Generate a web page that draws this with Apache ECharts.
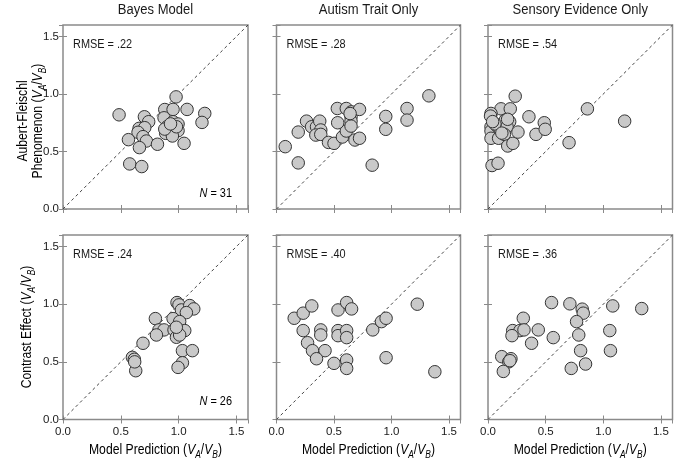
<!DOCTYPE html>
<html>
<head>
<meta charset="utf-8">
<script src="https://cdn.jsdelivr.net/npm/echarts@6/dist/echarts.min.js"></script>
<style>html,body{margin:0;padding:0;background:#fff}#c{width:675px;height:461px}</style>
</head>
<body>
<div id="c"></div>
<script>
// ---- data ----
const panelTitles = ['Bayes Model', 'Autism Trait Only', 'Sensory Evidence Only'];
const rmseTop = ['.22', '.28', '.54'];
const rmseBottom = ['.24', '.40', '.36'];
const nTop = 31;
const nBottom = 26;
const axisMin = 0;
const axisMax = 1.6;
const identityLine = [[0, 0], [1.6, 1.6]];

const afBayes = [[0.485,0.819],[0.978,0.975],[0.704,0.802],[0.741,0.759],[0.658,0.701],[0.707,0.707],[0.649,0.667],[0.692,0.629],[0.721,0.591],[0.566,0.603],[0.661,0.534],[0.817,0.563],[0.577,0.392],[0.681,0.369],[0.880,0.865],[0.952,0.866],[1.073,0.866],[1.226,0.831],[1.202,0.753],[1.047,0.571],[0.874,0.793],[0.900,0.715],[0.952,0.759],[0.995,0.739],[0.995,0.681],[0.938,0.681],[0.888,0.658],[0.946,0.635],[0.880,0.695],[0.981,0.715],[0.930,0.740]];
const afAutism = [[0.076,0.542],[0.189,0.669],[0.189,0.401],[0.261,0.764],[0.305,0.715],[0.348,0.715],[0.376,0.764],[0.385,0.687],[0.342,0.643],[0.385,0.649],[0.452,0.579],[0.500,0.571],[0.573,0.626],[0.607,0.678],[0.532,0.750],[0.529,0.874],[0.607,0.874],[0.651,0.845],[0.648,0.802],[0.648,0.764],[0.648,0.721],[0.722,0.866],[0.682,0.600],[0.722,0.615],[0.832,0.381],[0.950,0.805],[0.950,0.693],[1.135,0.874],[1.135,0.773],[1.325,0.984],[0.640,0.830]];
const afSensory = [[0.236,0.981],[0.113,0.871],[0.193,0.871],[0.026,0.831],[0.022,0.808],[0.026,0.715],[0.026,0.678],[0.026,0.615],[0.078,0.721],[0.106,0.687],[0.092,0.615],[0.150,0.773],[0.188,0.759],[0.165,0.715],[0.142,0.649],[0.171,0.548],[0.216,0.571],[0.260,0.669],[0.355,0.802],[0.416,0.649],[0.488,0.750],[0.496,0.693],[0.703,0.577],[0.862,0.871],[1.185,0.764],[0.035,0.378],[0.087,0.398],[0.060,0.740],[0.120,0.660],[0.040,0.760],[0.170,0.780]];
const ceBayes = [[0.986,1.014],[1.003,0.994],[1.024,0.950],[1.096,0.988],[1.131,0.959],[1.067,0.927],[0.799,0.875],[0.952,0.875],[1.009,0.849],[0.830,0.777],[0.874,0.777],[0.808,0.733],[0.960,0.777],[1.053,0.771],[0.981,0.713],[1.009,0.733],[0.692,0.661],[1.033,0.597],[1.119,0.597],[1.033,0.492],[0.995,0.452],[0.600,0.539],[0.617,0.522],[0.629,0.423],[0.620,0.500],[0.980,0.800]];
const ceAutism = [[0.154,0.878],[0.232,0.922],[0.307,0.985],[0.535,0.950],[0.610,1.014],[0.653,0.959],[0.232,0.771],[0.385,0.777],[0.385,0.733],[0.535,0.771],[0.535,0.727],[0.610,0.771],[0.610,0.710],[0.270,0.666],[0.313,0.597],[0.422,0.597],[0.348,0.527],[0.500,0.487],[0.610,0.516],[0.610,0.443],[0.837,0.777],[0.913,0.849],[0.953,0.878],[0.953,0.536],[1.224,1.000],[1.377,0.414]];
const ceSensory = [[0.551,1.014],[0.710,1.003],[0.817,0.957],[0.826,0.922],[0.306,0.878],[0.768,0.849],[0.214,0.771],[0.277,0.771],[0.312,0.777],[0.436,0.777],[0.208,0.727],[0.566,0.710],[0.787,0.733],[0.378,0.661],[0.803,0.597],[0.119,0.545],[0.199,0.527],[0.180,0.500],[0.133,0.417],[0.722,0.443],[0.846,0.481],[1.082,0.985],[1.056,0.771],[1.062,0.597],[1.333,0.962],[0.190,0.510]];

const panelData = [afBayes, afAutism, afSensory, ceBayes, ceAutism, ceSensory];

// ---- layout ----
const FONT = "'Liberation Sans',Arial,sans-serif";
const NARROW = 0.84;
const TXT = '#1a1a1a';
const FRAME = '#8a8a8a';
const colLeft = [63, 276.5, 488];
const colWidth = [185, 184, 184.5];
const rowTop = [25, 235];
const rowHeight = [184, 184.5];

const richV = {
  t: {fontSize: 14.5, fontFamily: FONT, color: TXT, lineHeight: 15},
  i: {fontSize: 14.5, fontFamily: FONT, color: TXT, fontStyle: 'italic', lineHeight: 15},
  s: {fontSize: 10, fontFamily: FONT, color: TXT, fontStyle: 'italic', lineHeight: 10, verticalAlign: 'bottom', padding: [0, 0, -3, 0]}
};
const vab = '{t|(}{i|V}{s|A}{t|/}{i|V}{s|B}{t|)}';

const grids = [], xAxes = [], yAxes = [], series = [], graphics = [];
for (let r = 0; r < 2; r++) {
  for (let c = 0; c < 3; c++) {
    const k = r * 3 + c;
    grids.push({left: colLeft[c], top: rowTop[r], width: colWidth[c], height: rowHeight[r],
      show: true, borderColor: FRAME, borderWidth: 1.5, backgroundColor: 'transparent'});
    const base = {min: axisMin, max: axisMax, interval: 0.5, gridIndex: k, type: 'value',
      axisLine: {show: false}, splitLine: {show: false},
      axisTick: {show: true, inside: true, length: 4, lineStyle: {color: FRAME, width: 1}}};
    xAxes.push(Object.assign({}, base, {position: 'bottom',
      axisLabel: {show: r === 1, showMaxLabel: false, margin: 6, fontSize: 11.5, fontFamily: FONT, color: TXT,
        formatter: v => v.toFixed(1)}}));
    xAxes.push(Object.assign({}, base, {position: 'top', axisLabel: {show: false}}));
    yAxes.push(Object.assign({}, base, {position: 'left',
      axisLabel: {show: c === 0, showMaxLabel: false, margin: 4, fontSize: 11.5, fontFamily: FONT, color: TXT,
        formatter: v => v.toFixed(1)}}));
    yAxes.push(Object.assign({}, base, {position: 'right', axisLabel: {show: false}}));
    series.push({type: 'line', xAxisIndex: 2 * k, yAxisIndex: 2 * k, data: identityLine, symbol: 'none',
      silent: true, lineStyle: {color: '#444', width: 1, type: [3, 3]}, z: 1});
    series.push({type: 'scatter', xAxisIndex: 2 * k, yAxisIndex: 2 * k, data: panelData[k],
      symbol: 'circle', symbolSize: 12.5,
      itemStyle: {color: '#c9c9c9', borderColor: '#333', borderWidth: 1, opacity: 1}, z: 2});
    const rm = r === 0 ? rmseTop[c] : rmseBottom[c];
    graphics.push({type: 'text', x: colLeft[c] + 10, y: rowTop[r] + 19, z: 10, scaleX: NARROW,
      style: {text: 'RMSE = ' + rm, fontSize: 13, fontFamily: FONT, fill: TXT, align: 'left', verticalAlign: 'middle'}});
    if (r === 1) {
      graphics.push({type: 'text', x: colLeft[c] + colWidth[c] / 2, y: 450, z: 10, scaleX: NARROW,
        style: {text: '{t|Model Prediction }' + vab, rich: richV, align: 'center', verticalAlign: 'middle'}});
    }
  }
}
// titles
for (let c = 0; c < 3; c++) {
  graphics.push({type: 'text', x: colLeft[c] + colWidth[c] / 2, y: 10, z: 10, scaleX: NARROW,
    style: {text: panelTitles[c], fontSize: 15.5, fontFamily: FONT, fill: TXT, align: 'center', verticalAlign: 'middle'}});
}
// N labels
const nRich = {t: {fontSize: 13, fontFamily: FONT, color: TXT}, i: {fontSize: 13, fontFamily: FONT, color: TXT, fontStyle: 'italic'}};
graphics.push({type: 'text', x: 232, y: 193, z: 10, scaleX: NARROW,
  style: {text: '{i|N}{t| = ' + nTop + '}', rich: nRich, align: 'right', verticalAlign: 'middle'}});
graphics.push({type: 'text', x: 232, y: 401, z: 10, scaleX: NARROW,
  style: {text: '{i|N}{t| = ' + nBottom + '}', rich: nRich, align: 'right', verticalAlign: 'middle'}});
// y labels (scale along text direction)
graphics.push({type: 'text', x: 30.5, y: 121, rotation: Math.PI / 2, z: 10, scaleX: NARROW,
  style: {text: '{t|Aubert-Fleischl}\n{t|Phenomenon }' + vab, rich: richV, align: 'center', verticalAlign: 'middle'}});
graphics.push({type: 'text', x: 27, y: 327, rotation: Math.PI / 2, z: 10, scaleX: NARROW,
  style: {text: '{t|Contrast Effect }' + vab, rich: richV, align: 'center', verticalAlign: 'middle'}});

const chart = echarts.init(document.getElementById('c'), null, {renderer: 'canvas'});
chart.setOption({
  animation: false,
  textStyle: {fontFamily: FONT},
  grid: grids, xAxis: xAxes, yAxis: yAxes, series: series, graphic: graphics
});
</script>
</body>
</html>
